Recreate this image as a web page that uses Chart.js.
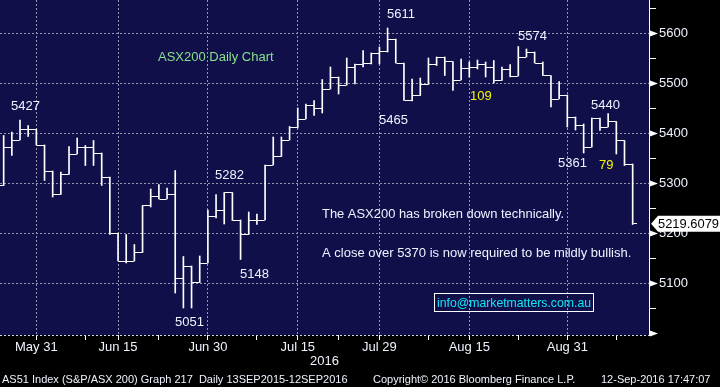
<!DOCTYPE html>
<html lang="en">
<head>
<meta charset="UTF-8">
<title>ASX200 Daily Chart</title>
<script src="https://cdn.jsdelivr.net/npm/chart.js"></script>
<style>
  html, body { margin: 0; padding: 0; background: #000; }
  canvas { display: block; }
</style>
</head>
<body>
<canvas id="chart" width="720" height="387"></canvas>
<script>
// AS51 daily bars, 25 May - 12 Sep 2016 (trading days only)
const dates = [
  '2016-05-25','2016-05-26','2016-05-27','2016-05-30','2016-05-31',
  '2016-06-01','2016-06-02','2016-06-03','2016-06-06','2016-06-07','2016-06-08','2016-06-09','2016-06-10',
  '2016-06-14','2016-06-15','2016-06-16','2016-06-17','2016-06-20','2016-06-21','2016-06-22','2016-06-23',
  '2016-06-24','2016-06-27','2016-06-28','2016-06-29','2016-06-30',
  '2016-07-01','2016-07-04','2016-07-05','2016-07-06','2016-07-07','2016-07-08','2016-07-11','2016-07-12',
  '2016-07-13','2016-07-14','2016-07-15','2016-07-18','2016-07-19','2016-07-20','2016-07-21','2016-07-22',
  '2016-07-25','2016-07-26','2016-07-27','2016-07-28','2016-07-29',
  '2016-08-01','2016-08-02','2016-08-03','2016-08-04','2016-08-05','2016-08-08','2016-08-09','2016-08-10',
  '2016-08-11','2016-08-12','2016-08-15','2016-08-16','2016-08-17','2016-08-18','2016-08-19','2016-08-22',
  '2016-08-23','2016-08-24','2016-08-25','2016-08-26','2016-08-29','2016-08-30','2016-08-31',
  '2016-09-01','2016-09-02','2016-09-05','2016-09-06','2016-09-07','2016-09-08','2016-09-09','2016-09-12'
];
const opens = [
  5296, 5373, 5387, 5409, 5409, 5377, 5325, 5278, 5318, 5359, 5373, 5373, 5361, 5313, 5201, 5145,
  5145, 5162, 5256, 5274, 5269, 5279, 5111, 5135, 5102, 5141, 5234, 5246, 5282, 5227, 5198, 5227,
  5227, 5337, 5354, 5387, 5413, 5429, 5457, 5451, 5489, 5513, 5497, 5533, 5538, 5541, 5561, 5564,
  5589, 5541, 5466, 5476, 5498, 5539, 5553, 5544, 5507, 5531, 5533, 5539, 5533, 5507, 5528, 5515,
  5553, 5563, 5541, 5516, 5469, 5477, 5433, 5416, 5373, 5431, 5413, 5424, 5386, 5339
];
const highs = [
  5396, 5403, 5427, 5416, 5409, 5377, 5325, 5323, 5374, 5391, 5376, 5386, 5361, 5313, 5201, 5198,
  5178, 5256, 5289, 5298, 5291, 5326, 5154, 5135, 5155, 5247, 5278, 5282, 5282, 5227, 5243, 5239,
  5337, 5393, 5393, 5414, 5451, 5459, 5466, 5508, 5533, 5513, 5551, 5539, 5566, 5561, 5573, 5611,
  5589, 5541, 5509, 5511, 5551, 5553, 5553, 5544, 5549, 5543, 5547, 5543, 5546, 5533, 5538, 5574,
  5569, 5563, 5543, 5516, 5504, 5477, 5433, 5419, 5431, 5431, 5440, 5424, 5386, 5339
];
const lows = [
  5296, 5356, 5387, 5394, 5377, 5306, 5273, 5278, 5318, 5359, 5336, 5336, 5296, 5198, 5145, 5141,
  5145, 5162, 5253, 5269, 5269, 5081, 5051, 5051, 5102, 5141, 5231, 5219, 5226, 5148, 5198, 5218,
  5227, 5337, 5354, 5387, 5411, 5429, 5436, 5441, 5489, 5479, 5497, 5499, 5533, 5539, 5539, 5563,
  5541, 5466, 5465, 5476, 5498, 5536, 5516, 5486, 5507, 5513, 5529, 5513, 5501, 5506, 5513, 5515,
  5553, 5541, 5516, 5453, 5469, 5413, 5407, 5361, 5373, 5406, 5413, 5359, 5336, 5218
];
const closes = [
  5373, 5387, 5409, 5409, 5377, 5325, 5278, 5318, 5359, 5373, 5373, 5361, 5313, 5201, 5145, 5145,
  5162, 5256, 5274, 5269, 5279, 5111, 5135, 5102, 5141, 5234, 5246, 5282, 5227, 5198, 5227, 5227,
  5337, 5354, 5387, 5413, 5429, 5457, 5451, 5489, 5513, 5497, 5533, 5538, 5541, 5561, 5564, 5589,
  5541, 5466, 5476, 5498, 5539, 5553, 5544, 5507, 5531, 5533, 5539, 5533, 5507, 5528, 5515, 5553,
  5563, 5541, 5516, 5469, 5477, 5433, 5416, 5373, 5431, 5413, 5424, 5386, 5339, 5219.6079
];

const xTickDates = ['2016-05-31','2016-06-15','2016-06-30','2016-07-15','2016-07-29','2016-08-15','2016-08-31'];
const xTickLabels = ['May 31','Jun 15','Jun 30','Jul 15','Jul 29','Aug 15','Aug 31'];
const xMinorDates = ['2016-06-08','2016-06-22','2016-07-08','2016-07-22','2016-08-08','2016-08-23','2016-09-08'];
const yTicks = [5000, 5050, 5100, 5150, 5200, 5250, 5300, 5350, 5400, 5450, 5500, 5550, 5600, 5650];
const yLabelled = [5100, 5200, 5300, 5400, 5500, 5600];

const NAVY = '#100f4a';
const GRID = '#9696ae';
const TXT = '#eef3ff';
const FONT = "'Liberation Sans', Arial, sans-serif";

const majorIdx = xTickDates.map(d => dates.indexOf(d));
const minorIdx = xMinorDates.map(d => dates.indexOf(d));

// open tick on the left, close tick on the right
function tickImage(side) {
  const c = document.createElement('canvas');
  c.width = 9; c.height = 1;
  const g = c.getContext('2d');
  g.fillStyle = '#ffffff';
  g.fillRect(side === 'left' ? 0 : 5, 0, 4, 1);
  return c;
}

const notes = [
  { text: 'ASX200 Daily Chart', x: 158, y: 61, color: '#88e08c' },
  { text: '5427', x: 11, y: 110, color: TXT },
  { text: '5282', x: 215, y: 179, color: TXT },
  { text: '5148', x: 240, y: 278, color: TXT },
  { text: '5051', x: 175, y: 326, color: TXT },
  { text: '5611', x: 387, y: 18, color: TXT },
  { text: '5465', x: 379, y: 124, color: TXT },
  { text: '109', x: 470, y: 100, color: '#f4f400' },
  { text: '5574', x: 518, y: 40, color: TXT },
  { text: '5440', x: 591, y: 109, color: TXT },
  { text: '5361', x: 558, y: 167, color: TXT },
  { text: '79', x: 599, y: 169, color: '#f4f400' },
  { text: 'The ASX200 has broken down technically.', x: 322, y: 218, color: TXT, w: 242 },
  { text: 'A close over 5370 is now required to be mildly bullish.', x: 322, y: 257, color: TXT, w: 310 }
];

const bloombergLook = {
  id: 'bloombergLook',
  beforeDraw(chart) {
    const { ctx, chartArea: a } = chart;
    ctx.save();
    ctx.fillStyle = '#000';
    ctx.fillRect(0, 0, chart.width, chart.height);
    ctx.fillStyle = NAVY;
    ctx.fillRect(a.left, a.top, a.right - a.left, a.bottom - a.top);
    ctx.restore();
  },
  afterDraw(chart) {
    const { ctx, chartArea: a } = chart;
    const y = chart.scales.y;
    ctx.save();

    // dotted bottom border
    ctx.strokeStyle = '#d8d8e8';
    ctx.setLineDash([2, 2]);
    ctx.beginPath();
    ctx.moveTo(a.left, a.bottom + 0.5);
    ctx.lineTo(a.right, a.bottom + 0.5);
    ctx.stroke();
    ctx.setLineDash([]);

    // arrow markers on the price axis
    ctx.fillStyle = '#fff';
    [5000].concat(yLabelled).forEach(v => {
      const py = y.getPixelForValue(v);
      ctx.beginPath();
      ctx.moveTo(a.right + 1, py - 3);
      ctx.lineTo(a.right + 9, py);
      ctx.lineTo(a.right + 1, py + 3);
      ctx.closePath();
      ctx.fill();
    });

    // last price tag
    const last = closes[closes.length - 1];
    const ly = y.getPixelForValue(last);
    ctx.beginPath();
    ctx.moveTo(a.right + 2, ly);
    ctx.lineTo(a.right + 9, ly - 8);
    ctx.lineTo(chart.width, ly - 8);
    ctx.lineTo(chart.width, ly + 8);
    ctx.lineTo(a.right + 9, ly + 8);
    ctx.closePath();
    ctx.fill();
    ctx.fillStyle = '#000';
    ctx.font = '13px ' + FONT;
    ctx.textBaseline = 'middle';
    ctx.fillText(last.toFixed(4), a.right + 9, ly + 1, 61);

    // annotations
    ctx.textBaseline = 'alphabetic';
    notes.forEach(n => {
      ctx.fillStyle = n.color;
      if (n.w) ctx.fillText(n.text, n.x, n.y, n.w);
      else ctx.fillText(n.text, n.x, n.y);
    });

    // contact box
    ctx.strokeStyle = '#fff';
    ctx.lineWidth = 1;
    ctx.strokeRect(434.5, 293.5, 159, 18);
    ctx.fillStyle = '#16e3f5';
    ctx.fillText('info@marketmatters.com.au', 437, 307, 154);

    // footer
    ctx.fillStyle = TXT;
    ctx.font = '11px ' + FONT;
    ctx.fillText('AS51 Index (S&P/ASX 200) Graph 217  Daily 13SEP2015-12SEP2016', 2, 383, 351);
    ctx.fillText('Copyright\u00a9 2016 Bloomberg Finance L.P.', 373, 383, 207);
    ctx.fillText('12-Sep-2016 17:47:07', 601, 383, 117);
    ctx.restore();
  }
};

new Chart(document.getElementById('chart'), {
  type: 'bar',
  data: {
    datasets: [
      {
        type: 'bar',
        data: dates.map((d, i) => ({ x: i, y: [lows[i], highs[i]] })),
        backgroundColor: '#ffffff',
        borderWidth: 0,
        barThickness: 1,
        order: 2
      },
      {
        type: 'line',
        data: dates.map((d, i) => ({ x: i, y: opens[i] })),
        showLine: false,
        pointStyle: tickImage('left'),
        pointRadius: 1,
        order: 1
      },
      {
        type: 'line',
        data: dates.map((d, i) => ({ x: i, y: closes[i] })),
        showLine: false,
        pointStyle: tickImage('right'),
        pointRadius: 1,
        order: 1
      }
    ]
  },
  options: {
    responsive: false,
    animation: false,
    events: [],
    layout: { padding: 0, autoPadding: false },
    plugins: { legend: { display: false }, tooltip: { enabled: false } },
    scales: {
      x: {
        type: 'linear',
        min: -0.45,
        max: 79,
        offset: false,
        afterBuildTicks: s => {
          s.ticks = majorIdx.concat(minorIdx).sort((p, q) => p - q).map(v => ({ value: v }));
        },
        afterFit: s => { s.height = 52; s.paddingLeft = 0; s.paddingRight = 0; },
        ticks: {
          autoSkip: false,
          maxRotation: 0,
          padding: 0,
          color: TXT,
          font: { family: FONT, size: 13 },
          callback: v => {
            const k = majorIdx.indexOf(v);
            return k >= 0 ? xTickLabels[k] : '';
          }
        },
        grid: {
          offset: false,
          color: c => (c.tick && majorIdx.includes(c.tick.value)) ? GRID : 'rgba(0,0,0,0)',
          tickColor: '#ffffff',
          tickLength: 5
        },
        border: { display: false, dash: [2, 2] },
        title: {
          display: true,
          text: '2016',
          color: TXT,
          font: { family: FONT, size: 13 },
          padding: { top: 0, bottom: 18 }
        }
      },
      y: {
        position: 'right',
        min: 4997,
        max: 5667,
        afterBuildTicks: s => { s.ticks = yTicks.map(v => ({ value: v })); },
        afterFit: s => { s.width = 71; s.paddingTop = 0; s.paddingBottom = 0; },
        ticks: {
          padding: 3,
          color: TXT,
          font: { family: FONT, size: 13 },
          callback: v => yLabelled.includes(v) ? String(v) : ''
        },
        grid: {
          color: c => (c.tick && yLabelled.includes(c.tick.value)) ? GRID : 'rgba(0,0,0,0)',
          tickColor: '#ffffff',
          tickLength: 7
        },
        border: { display: true, color: '#ffffff', width: 1, dash: [2, 2] }
      }
    }
  },
  plugins: [bloombergLook]
});
</script>
</body>
</html>
